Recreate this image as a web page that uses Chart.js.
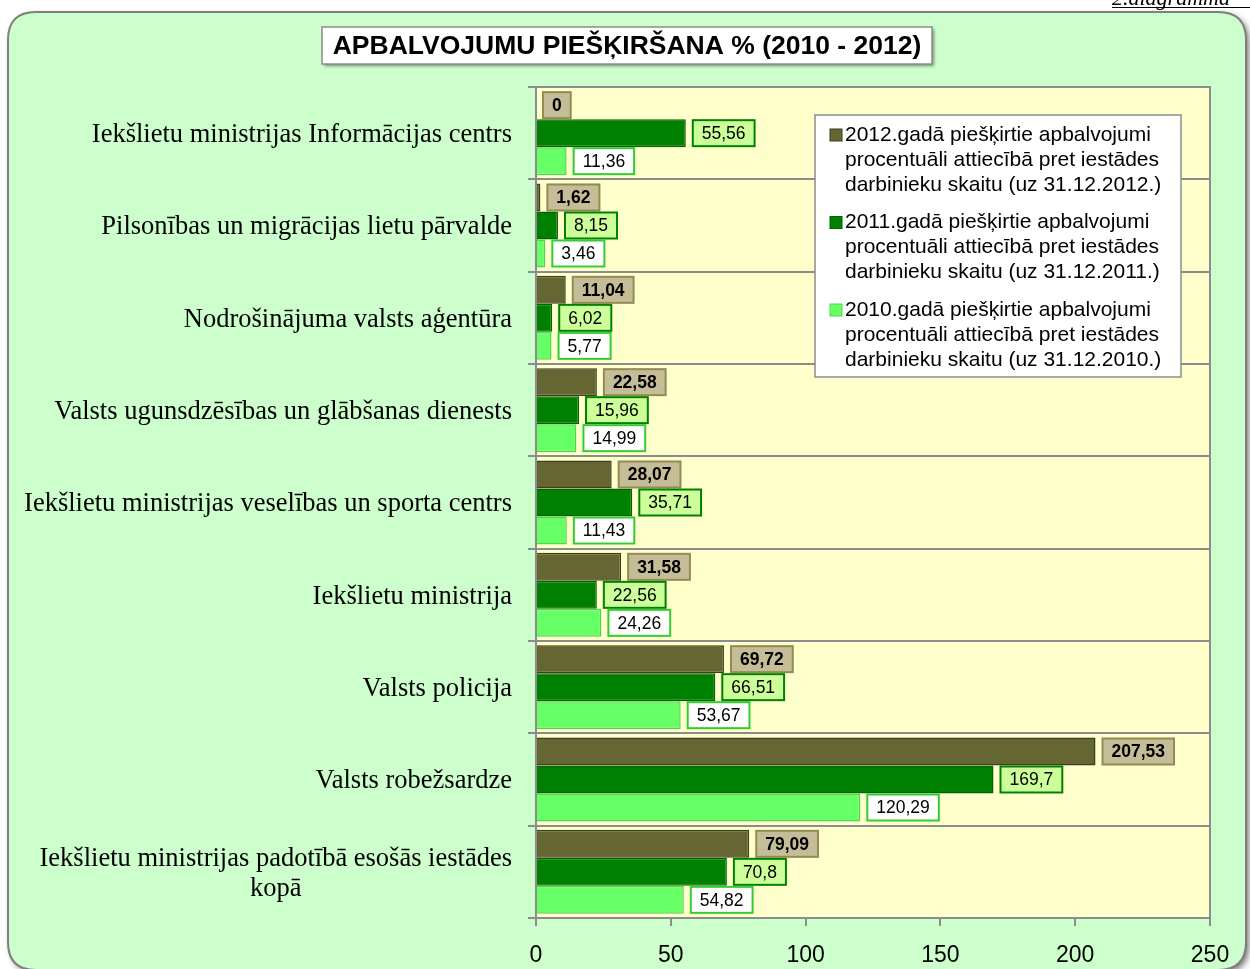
<!DOCTYPE html>
<html><head><meta charset="utf-8">
<script src="https://cdn.jsdelivr.net/npm/chart.js@4.4.1/dist/chart.umd.min.js"></script>
<style>html,body{margin:0;padding:0;background:#fff;}canvas{display:block;}</style>
</head><body>
<canvas id="c" width="1250" height="969"></canvas>
<script>
const categories = [
  ["Iekšlietu ministrijas Informācijas centrs"],
  ["Pilsonības un migrācijas lietu pārvalde"],
  ["Nodrošinājuma valsts aģentūra"],
  ["Valsts ugunsdzēsības un glābšanas dienests"],
  ["Iekšlietu ministrijas veselības un sporta centrs"],
  ["Iekšlietu ministrija"],
  ["Valsts policija"],
  ["Valsts robežsardze"],
  ["Iekšlietu ministrijas padotībā esošās iestādes", "kopā"]
];
const values2012 = [0, 1.62, 11.04, 22.58, 28.07, 31.58, 69.72, 207.53, 79.09];
const values2011 = [55.56, 8.15, 6.02, 15.96, 35.71, 22.56, 66.51, 169.7, 70.8];
const values2010 = [11.36, 3.46, 5.77, 14.99, 11.43, 24.26, 53.67, 120.29, 54.82];
const seriesNames = [
  ["2012.gadā piešķirtie apbalvojumi", "procentuāli attiecībā pret iestādes", "darbinieku skaitu (uz 31.12.2012.)"],
  ["2011.gadā piešķirtie apbalvojumi", "procentuāli attiecībā pret iestādes", "darbinieku skaitu (uz 31.12.2011.)"],
  ["2010.gadā piešķirtie apbalvojumi", "procentuāli attiecībā pret iestādes", "darbinieku skaitu (uz 31.12.2010.)"]
];
const xTicks = [0, 50, 100, 150, 200, 250];
const titleText = "APBALVOJUMU PIEŠĶIRŠANA % (2010 - 2012)";
const cornerText = "2.diagramma";

const SANS = "'Liberation Sans', Arial, sans-serif";
const SERIF = "'Liberation Serif', 'Times New Roman', serif";

const labelStyles = [
  {bg:'#c4bd97', border:'#948a54', bold:true},
  {bg:'#ccff99', border:'#008000', bold:false},
  {bg:'#ffffff', border:'#33cc33', bold:false}
];

function roundRect(ctx,x,y,w,h,r){
  ctx.beginPath();
  ctx.moveTo(x+r,y);ctx.lineTo(x+w-r,y);ctx.quadraticCurveTo(x+w,y,x+w,y+r);
  ctx.lineTo(x+w,y+h-r);ctx.quadraticCurveTo(x+w,y+h,x+w-r,y+h);
  ctx.lineTo(x+r,y+h);ctx.quadraticCurveTo(x,y+h,x,y+h-r);
  ctx.lineTo(x,y+r);ctx.quadraticCurveTo(x,y,x+r,y);ctx.closePath();
}

const decor = {
  id:'decor',
  beforeDraw(chart){
    const ctx = chart.ctx, ca = chart.chartArea;
    ctx.save();
    ctx.fillStyle='#fff';ctx.fillRect(0,0,1250,969);
    // corner text
    ctx.font = "italic 22px " + SERIF;
    ctx.fillStyle='#000';ctx.textAlign='left';ctx.textBaseline='alphabetic';
    ctx.fillText(cornerText, 1112, 5);
    ctx.fillRect(1112,7,138,1);
    // outer box
    ctx.shadowColor='rgba(0,0,0,0.55)';ctx.shadowBlur=6;ctx.shadowOffsetX=3;ctx.shadowOffsetY=3;
    roundRect(ctx,8,12,1238,958,28);
    ctx.fillStyle='#ccffcc';ctx.fill();
    ctx.shadowColor='transparent';
    ctx.lineWidth=2;ctx.strokeStyle='#7f7f7f';ctx.stroke();
    // title box
    ctx.shadowColor='rgba(0,0,0,0.45)';ctx.shadowBlur=3;ctx.shadowOffsetX=2;ctx.shadowOffsetY=2;
    ctx.fillStyle='#fff';ctx.fillRect(322,27,610,37);
    ctx.shadowColor='transparent';
    ctx.lineWidth=1.5;ctx.strokeStyle='#8c8c8c';ctx.strokeRect(322,27,610,37);
    ctx.font = "bold 26.5px " + SANS;ctx.fillStyle='#000';ctx.textAlign='center';ctx.textBaseline='middle';
    ctx.fillText(titleText, 627, 47);
    // plot bg
    ctx.fillStyle='#ffffcc';ctx.fillRect(ca.left,ca.top,ca.right-ca.left,ca.bottom-ca.top);
    ctx.strokeStyle='#8c8c8c';ctx.lineWidth=2;
    ctx.beginPath();ctx.moveTo(ca.left,ca.top);ctx.lineTo(ca.right,ca.top);ctx.lineTo(ca.right,ca.bottom);ctx.stroke();
    ctx.restore();
  },
  afterDatasetsDraw(chart){
    const ctx = chart.ctx;
    ctx.save();
    chart.data.datasets.forEach((ds,di)=>{
      const meta = chart.getDatasetMeta(di);
      const st = labelStyles[di];
      ctx.font = (st.bold?'bold ':'') + "17.5px " + SANS;
      meta.data.forEach((bar,i)=>{
        const txt = String(ds.data[i]).replace('.', ',');
        const tw = ctx.measureText(txt).width;
        const w = tw + 18, h = 26;
        const x = bar.x + 7, y = bar.y - h/2;
        ctx.fillStyle = st.bg; ctx.fillRect(x,y,w,h);
        ctx.lineWidth=2; ctx.strokeStyle=st.border; ctx.strokeRect(x,y,w,h);
        ctx.fillStyle='#000';ctx.textAlign='center';ctx.textBaseline='middle';
        ctx.fillText(txt, x+w/2, y+h/2+1);
      });
    });
    ctx.restore();
  },
  afterDraw(chart){
    const ctx = chart.ctx, ys = chart.scales.y;
    ctx.save();
    // y labels
    ctx.font = "26.5px " + SERIF;ctx.fillStyle='#000';ctx.textBaseline='middle';
    categories.forEach((lines,i)=>{
      const cy = ys.getPixelForValue(i) + 2;
      const lh = 30;
      const maxW = Math.max(...lines.map(l=>ctx.measureText(l).width));
      lines.forEach((l,k)=>{
        const yy = cy + (k-(lines.length-1)/2)*lh;
        if(lines.length===1){ctx.textAlign='right';ctx.fillText(l,512,yy);}
        else {ctx.textAlign='center';ctx.fillText(l,512-maxW/2,yy);}
      });
    });
    // legend
    const lx=815, ly=115, lw=366, lh=262;
    ctx.fillStyle='#fff';ctx.fillRect(lx,ly,lw,lh);
    ctx.strokeStyle='#8c8c8c';ctx.lineWidth=1.5;ctx.strokeRect(lx,ly,lw,lh);
    ctx.font="21px " + SANS;ctx.textAlign='left';ctx.textBaseline='middle';
    chart.data.datasets.forEach((ds,di)=>{
      const y0 = 135 + di*87.5;
      ctx.fillStyle=ds.backgroundColor;ctx.fillRect(830,y0-6,12,12);
      ctx.strokeStyle=ds.borderColor;ctx.lineWidth=1;ctx.strokeRect(830,y0-6,12,12);
      ctx.fillStyle='#000';
      seriesNames[di].forEach((t,k)=>ctx.fillText(t,845,y0+k*25));
    });
    ctx.restore();
  }
};

new Chart(document.getElementById('c'),{
  type:'bar',
  data:{
    labels: categories.map(c=>c.join(' ')),
    datasets:[
      {label:seriesNames[0].join(' '),data:values2012,backgroundColor:'#666633',borderColor:'#3d3d1f',borderWidth:1.5},
      {label:seriesNames[1].join(' '),data:values2011,backgroundColor:'#008000',borderColor:'#006400',borderWidth:1.5},
      {label:seriesNames[2].join(' '),data:values2010,backgroundColor:'#66ff66',borderColor:'#52d452',borderWidth:1.5}
    ]
  },
  options:{
    indexAxis:'y',responsive:false,animation:false,
    categoryPercentage:0.91,barPercentage:1.0,
    layout:{padding:{top:87,right:40,left:0,bottom:0}},
    plugins:{legend:{display:false},tooltip:{enabled:false},title:{display:false}},
    scales:{
      x:{min:0,max:250,
        afterBuildTicks(s){s.ticks = xTicks.map(v=>({value:v}));},
        afterFit(s){s.height=51;},
        grid:{drawOnChartArea:false,drawTicks:true,tickLength:8,color:'#8c8c8c',lineWidth:2},
        border:{color:'#8c8c8c',width:2},
        ticks:{font:{family:SANS,size:23},color:'#000',padding:16,maxRotation:0}
      },
      y:{
        afterFit(s){s.width=536;},
        grid:{offset:true,color:'#8c8c8c',lineWidth:2,tickLength:8},
        border:{color:'#8c8c8c',width:2},
        ticks:{display:false}
      }
    }
  },
  plugins:[decor]
});
</script>
</body></html>
